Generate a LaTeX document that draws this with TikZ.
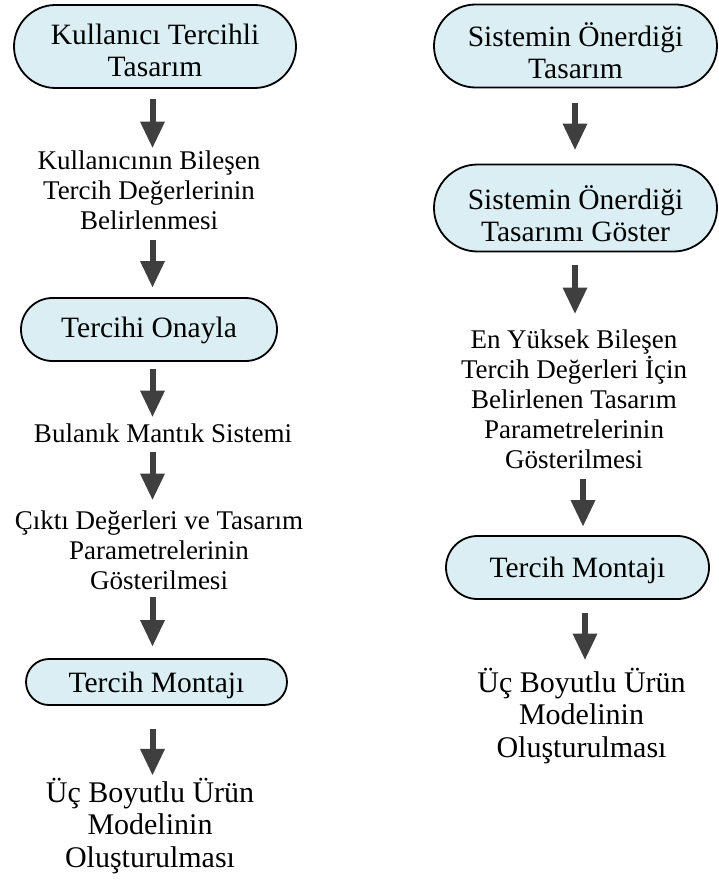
\documentclass[tikz,border=0pt]{standalone}
\usepackage{fontspec}
\setmainfont{Liberation Serif}
\usetikzlibrary{arrows.meta}
\definecolor{pillfill}{HTML}{DAEEF3}
\definecolor{arrowgray}{HTML}{3F3F3F}
% invisible strut that sets the height of a first line
\newcommand{\padtop}[1]{\rule{0pt}{#1}}
\begin{document}
\begin{tikzpicture}[x=1pt,y=-1pt,
  pill/.style={draw=black, line width=1.8pt, fill=pillfill, align=center,
    inner sep=0pt, font=\fontsize{29.5}{32}\selectfont},
  stepText/.style={align=center, inner sep=0pt, font=\fontsize{27}{30}\selectfont},
  endText/.style={align=center, inner sep=0pt, font=\fontsize{30}{32.5}\selectfont},
  flow/.style={draw=arrowgray, line width=6pt,
    -{Triangle[width=25pt,length=26pt,line width=0pt,fill=arrowgray]}}
]
\useasboundingbox (0,0) rectangle (719,880);

% column axes for the vertical connectors
\coordinate (Lx) at (152.5,0);
\coordinate (Rx) at (575,0);
\coordinate (Rx2) at (583,0);
\coordinate (Rx3) at (585,0);

% left column: user preference design
\node[pill, minimum width=282pt, minimum height=83pt, rounded corners=41.5pt]
  (kt) at (155,46.5) {\padtop{28pt}Kullanıcı Tercihli\\Tasarım};
\node[stepText] (kb) at (149,190.7) {Kullanıcının Bileşen\\Tercih Değerlerinin\\Belirlenmesi};
\node[pill, minimum width=256pt, minimum height=63pt, rounded corners=31.5pt]
  (to) at (149,329.5) {\padtop{22pt}Tercihi Onayla};
\node[stepText] (bm) at (163,433.7) {Bulanık Mantık Sistemi};
\node[stepText] (cd) at (159,550.7) {Çıktı Değerleri ve Tasarım\\Parametrelerinin\\Gösterilmesi};
\node[pill, minimum width=261pt, minimum height=46pt, rounded corners=23pt]
  (tm) at (156.5,682) {\padtop{28pt}Tercih Montajı};
\node[endText] (um) at (150,826) {Üç Boyutlu Ürün\\Modelinin\\Oluşturulması};

\draw[flow, shorten <=10pt, shorten >=3.4pt] (Lx |- kt.south) -- (Lx |- kb.north);
\draw[flow, shorten <=10pt, shorten >=10pt] (Lx |- kb.south) -- (Lx |- to.north);
\draw[flow, shorten <=7pt, shorten >=7.4pt] (Lx |- to.south) -- (Lx |- bm.north);
\draw[flow, shorten <=9pt, shorten >=11.4pt] (Lx |- bm.south) -- (Lx |- cd.north);
\draw[flow, shorten <=7pt, shorten >=12pt] (Lx |- cd.south) -- (Lx |- tm.north);
\draw[flow, shorten <=23pt, shorten >=3pt] (Lx |- tm.south) -- (Lx |- um.north);

% right column: system suggested design
\node[pill, minimum width=283pt, minimum height=83pt, rounded corners=41.5pt]
  (st) at (575.5,46) {\padtop{34pt}Sistemin Önerdiği\\Tasarım};
\node[pill, minimum width=283pt, minimum height=87pt, rounded corners=43.5pt]
  (sg) at (575.5,208) {\padtop{36pt}Sistemin Önerdiği\\Tasarımı Göster};
\node[stepText] (ey) at (574,399.7) {En Yüksek Bileşen\\Tercih Değerleri İçin\\Belirlenen Tasarım\\Parametrelerinin\\Gösterilmesi};
\node[pill, minimum width=263pt, minimum height=63pt, rounded corners=31.5pt]
  (rm) at (577.5,567.5) {\padtop{26pt}Tercih Montajı};
\node[endText] (ru) at (581.5,716) {Üç Boyutlu Ürün\\Modelinin\\Oluşturulması};

\draw[flow, shorten <=14.5pt, shorten >=14pt] (Rx |- st.south) -- (Rx |- sg.north);
\draw[flow, shorten <=12.5pt, shorten >=16.5pt] (Rx |- sg.south) -- (Rx |- ey.north);
\draw[flow, shorten <=10pt, shorten >=9pt] (Rx2 |- ey.south) -- (Rx2 |- rm.north);
\draw[flow, shorten <=13pt, shorten >=8.4pt] (Rx3 |- rm.south) -- (Rx3 |- ru.north);
\end{tikzpicture}
\end{document}
